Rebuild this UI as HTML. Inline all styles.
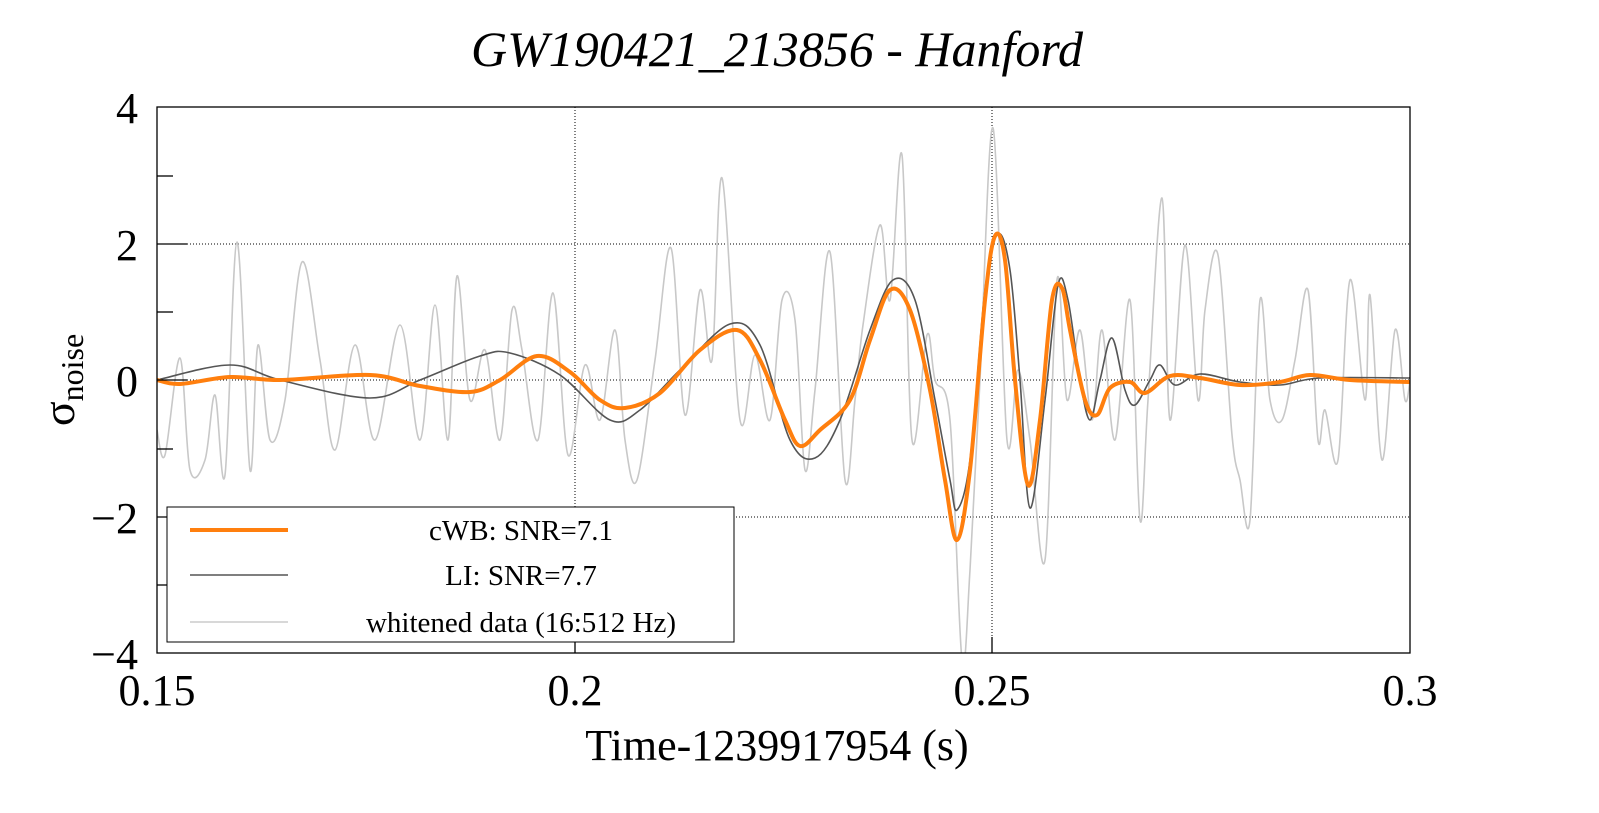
<!DOCTYPE html>
<html><head><meta charset="utf-8"><style>
html,body{margin:0;padding:0;background:#fff;}
svg{display:block;font-family:"Liberation Serif",serif;}
</style></head><body>
<svg id="s" width="1599" height="813" viewBox="0 0 1599 813" xmlns="http://www.w3.org/2000/svg">
<rect width="1599" height="813" fill="#fff"/>
<text x="777" y="66" font-size="50" font-style="italic" text-anchor="middle">GW190421_213856 - Hanford</text>
<g stroke="#000" stroke-width="1" stroke-dasharray="1,2">
<line x1="575" y1="107" x2="575" y2="653"/><line x1="992" y1="107" x2="992" y2="653"/>
<line x1="157" y1="244" x2="1410" y2="244"/><line x1="157" y1="380" x2="1410" y2="380"/><line x1="157" y1="517" x2="1410" y2="517"/>
</g>
<g id="curves" fill="none"></g>
<rect x="157" y="107" width="1253" height="546" fill="none" stroke="#000" stroke-width="1.3"/>
<g stroke="#000" stroke-width="1.3">
<line x1="157" y1="176" x2="173" y2="176"/><line x1="157" y1="312" x2="173" y2="312"/><line x1="157" y1="449" x2="173" y2="449"/><line x1="157" y1="585" x2="173" y2="585"/>
<line x1="157" y1="244" x2="187" y2="244"/><line x1="157" y1="380" x2="187" y2="380"/><line x1="157" y1="517" x2="187" y2="517"/>
<line x1="575" y1="653" x2="575" y2="637"/><line x1="992" y1="653" x2="992" y2="637"/>
</g>
<g font-size="44" text-anchor="end">
<text x="138" y="123">4</text><text x="138" y="260">2</text><text x="138" y="396">0</text><text x="138" y="533">−2</text><text x="138" y="669">−4</text>
</g>
<g font-size="44" text-anchor="middle">
<text x="157" y="705">0.15</text><text x="575" y="705">0.2</text><text x="992" y="705">0.25</text><text x="1410" y="705">0.3</text>
</g>
<text x="777" y="760" font-size="44" text-anchor="middle">Time-1239917954 (s)</text>
<text transform="translate(74,380) rotate(-90)" font-size="46" text-anchor="middle">σ<tspan font-size="32" dy="9">noise</tspan></text>
<rect x="167" y="507" width="567" height="135" fill="#fff" stroke="#000" stroke-width="1"/>
<line x1="190" y1="530" x2="288" y2="530" stroke="#ff7f0e" stroke-width="4"/>
<line x1="190" y1="575" x2="288" y2="575" stroke="#555" stroke-width="1.6"/>
<line x1="190" y1="622" x2="288" y2="622" stroke="#ccc" stroke-width="1.6"/>
<g font-size="29" text-anchor="middle">
<text x="521" y="540">cWB: SNR=7.1</text><text x="521" y="585">LI: SNR=7.7</text><text x="521" y="632">whitened data (16:512 Hz)</text>
</g>
</svg>
<script>
function path(a){var p=[];for(var i=0;i<a.length;i+=2)p.push([a[i],a[i+1]]);
var d="M"+p[0][0]+","+p[0][1];
for(var i=0;i<p.length-1;i++){var p0=p[i-1]||p[i],p1=p[i],p2=p[i+1],p3=p[i+2]||p2;
d+=" C"+(p1[0]+(p2[0]-p0[0])/6).toFixed(1)+","+(p1[1]+(p2[1]-p0[1])/6).toFixed(1)+" "+(p2[0]-(p3[0]-p1[0])/6).toFixed(1)+","+(p2[1]-(p3[1]-p1[1])/6).toFixed(1)+" "+p2[0]+","+p2[1];}
return d;}
var gray=[157,430,165,455,180,358,190,470,205,460,215,395,225,475,237,242,250,470,258,345,270,440,285,400,302,262,320,360,335,450,355,345,375,440,400,325,420,440,435,305,448,440,457,276,470,400,485,350,500,440,512,310,522,350,538,440,553,293,568,455,585,365,600,420,615,330,625,440,637,480,655,360,671,248,685,415,700,290,712,360,722,178,740,420,755,355,770,420,782,300,795,320,805,470,815,390,830,252,845,480,855,400,863,325,880,225,890,300,902,155,912,440,927,335,935,380,950,420,962,660,970,570,980,380,993,128,1007,440,1018,370,1030,440,1045,560,1057,280,1067,400,1080,330,1092,420,1102,330,1115,440,1130,300,1140,520,1148,400,1162,198,1170,420,1185,245,1198,400,1205,310,1218,255,1232,435,1240,480,1250,520,1260,300,1270,400,1282,420,1295,360,1308,290,1318,440,1325,410,1338,460,1350,280,1365,400,1370,295,1382,460,1395,330,1405,400,1410,380];
var li=[157,380,230,365,280,380,370,398,420,380,480,356,510,353,560,375,610,420,640,410,680,370,730,324,760,345,790,440,815,458,840,420,870,330,893,280,915,300,935,400,950,480,957,510,970,460,985,290,998,234,1010,270,1020,380,1030,508,1045,400,1058,285,1068,300,1080,380,1090,420,1100,380,1112,338,1125,390,1135,405,1150,380,1160,365,1175,385,1200,374,1240,382,1280,385,1320,378,1410,378];
var cwb=[157,380,180,384,230,377,280,380,370,375,420,386,470,392,500,380,537,356,570,372,600,400,625,408,660,393,700,350,737,330,760,360,785,420,800,446,820,430,850,400,870,340,890,290,910,310,930,390,945,480,957,540,970,470,985,300,995,236,1005,260,1015,380,1028,485,1040,420,1052,300,1062,288,1070,330,1085,400,1097,415,1110,388,1130,382,1145,393,1170,376,1200,378,1240,385,1280,382,1310,375,1350,380,1410,382];
var g=document.getElementById("curves");
g.innerHTML='<clipPath id="c"><rect x="157" y="107" width="1253" height="546"/></clipPath><g clip-path="url(#c)"><path d="'+path(gray)+'" stroke="#c8c8c8" stroke-width="1.6"/><path d="'+path(li)+'" stroke="#555" stroke-width="1.6"/><path d="'+path(cwb)+'" stroke="#ff7f0e" stroke-width="4"/></g>';
</script>
</body></html>
